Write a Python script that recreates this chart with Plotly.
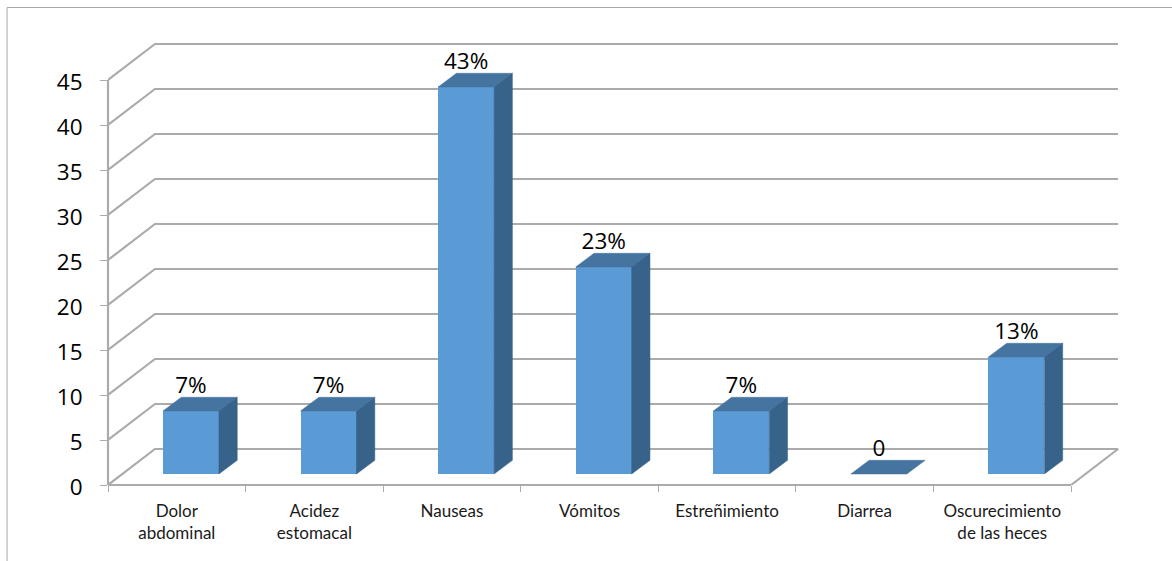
import plotly.graph_objects as go

categories = ["Dolor<br>abdominal", "Acidez<br>estomacal", "Nauseas", "Vómitos",
              "Estreñimiento", "Diarrea", "Oscurecimiento<br>de las heces"]
values = [7, 7, 43, 23, 7, 0, 13]
value_labels = ["7%", "7%", "43%", "23%", "7%", "0", "13%"]
y_ticks = [0, 5, 10, 15, 20, 25, 30, 35, 40, 45]

W, H = 1172, 561
L, R, T, B = 107.5, 1071.0, 80.0, 485.0
PX_X = (R - L) / len(categories)
PX_Y = (B - T) / max(y_ticks)

WALL_DX, WALL_DY = 47 / PX_X, 36 / PX_Y
BAR_LEFT, BAR_W = 55 / PX_X, 56 / PX_X
BAR_BASE = 11 / PX_Y
BAR_DX, BAR_DY = 18.3 / PX_X, 13.7 / PX_Y

GRID = "#ababab"
FRONT = "#5b9bd5"
TOP = "#44749f"
SIDE = "#37628a"
BIG_FONT = "Open Sans"

fig = go.Figure()
n = len(categories)

# walls and gridlines, on the lower axes
for v in y_ticks:
    xs = [0, WALL_DX, n + WALL_DX]
    ys = [v, v + WALL_DY, v + WALL_DY]
    if v == 0:
        xs.append(n)
        ys.append(0)
    fig.add_trace(go.Scatter(x=xs, y=ys, mode="lines",
                             line=dict(color=GRID, width=2.2), hoverinfo="skip",
                             showlegend=False))

# bars, on an overlaying pair of axes so they sit over the gridlines
lefts = [i + BAR_LEFT for i in range(n)]
fig.add_trace(go.Bar(x=[l + BAR_W / 2 for l in lefts], y=values,
                     base=[BAR_BASE] * n, width=BAR_W,
                     marker=dict(color=FRONT, line=dict(width=0)),
                     xaxis="x2", yaxis="y2", showlegend=False))
for l, v in zip(lefts, values):
    top = BAR_BASE + v
    fig.add_trace(go.Scatter(
        x=[l, l + BAR_DX, l + BAR_W + BAR_DX, l + BAR_W, l],
        y=[top, top + BAR_DY, top + BAR_DY, top, top],
        mode="lines", fill="toself", fillcolor=TOP, line=dict(color=TOP, width=0.5),
        xaxis="x2", yaxis="y2", hoverinfo="skip", showlegend=False))
    if v > 0:
        r = l + BAR_W
        fig.add_trace(go.Scatter(
            x=[r, r + BAR_DX, r + BAR_DX, r, r],
            y=[BAR_BASE, BAR_BASE + BAR_DY, top + BAR_DY, top, BAR_BASE],
            mode="lines", fill="toself", fillcolor=SIDE, line=dict(color=SIDE, width=0.5),
            xaxis="x2", yaxis="y2", hoverinfo="skip", showlegend=False))

fig.add_trace(go.Scatter(
    x=[l + BAR_W / 2 for l in lefts],
    y=[BAR_BASE + v + BAR_DY - 1.5 / PX_Y for v in values],
    mode="text", text=value_labels, textposition="top center",
    textfont=dict(family=BIG_FONT, size=22.5, color="#000000"),
    xaxis="x2", yaxis="y2", hoverinfo="skip", showlegend=False))

# the plot area runs to the top and right edges so the walls are not clipped
x_range = [0, (W - L) / PX_X]
y_range = [0, B / PX_Y]
fig.update_layout(
    width=W, height=H, autosize=False,
    margin=dict(l=L, r=0, t=0, b=H - B, pad=0),
    paper_bgcolor="white", plot_bgcolor="rgba(0,0,0,0)",
    bargap=0, showlegend=False,
    font=dict(family="Lato", color="#000000"),
    xaxis=dict(range=x_range, tickmode="array",
               tickvals=[i + 0.5 for i in range(n)],
               ticktext=categories,
               ticks="", tickfont=dict(family="Lato", size=17, color="#1a1a1a"),
               ticklabelstandoff=14, showgrid=False, zeroline=False, showline=False,
               minor=dict(tickmode="array", tickvals=list(range(n + 1)), ticks="outside",
                          ticklen=6, tickcolor=GRID, tickwidth=1, showgrid=False)),
    yaxis=dict(range=y_range, tickmode="array", tickvals=y_ticks,
               ticktext=[str(t) for t in y_ticks], ticks="outside", ticklen=7,
               tickcolor=GRID, tickwidth=1,
               tickfont=dict(family=BIG_FONT, size=22.5, color="#000000"),
               ticklabelstandoff=13, ticklabelshift=2,
               showgrid=False, zeroline=False, showline=False),
    xaxis2=dict(overlaying="x", matches="x", visible=False),
    yaxis2=dict(overlaying="y", matches="y", visible=False),
)

plot_w, plot_h = W - L, B
def px(x): return (x - L) / plot_w
def py(y): return (B - y) / plot_h
border = dict(color="#a8a8a8", width=1)
axis_line = dict(color=GRID, width=2.2)
fig.add_shape(type="line", xref="paper", yref="paper", x0=px(6.5), y0=py(7.5), x1=px(W), y1=py(7.5), line=border)
fig.add_shape(type="line", xref="paper", yref="paper", x0=px(6.5), y0=py(7.5), x1=px(6.5), y1=py(H), line=border)
fig.add_shape(type="line", xref="paper", yref="paper", x0=px(L), y0=py(T), x1=px(L), y1=py(B), line=axis_line)
fig.add_shape(type="line", xref="paper", yref="paper", x0=px(L), y0=py(B), x1=px(R), y1=py(B), line=axis_line)

fig.write_html("out.html", config={"displayModeBar": False},
               post_script="document.body.style.margin='0';document.body.style.overflow='hidden';")
